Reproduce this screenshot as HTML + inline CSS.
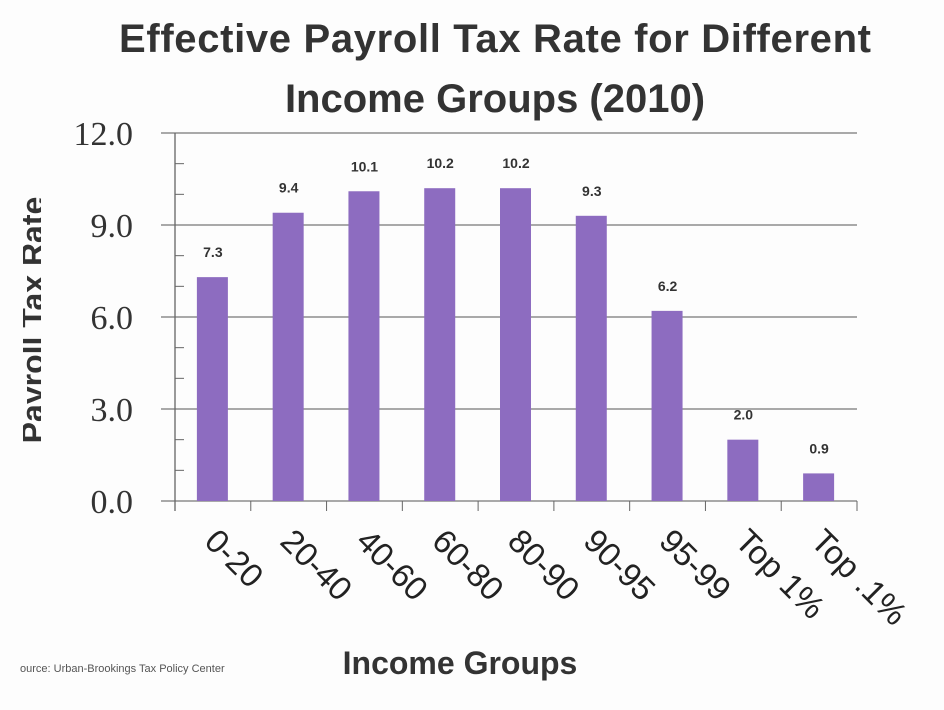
<!DOCTYPE html>
<html><head><meta charset="utf-8"><style>
body{margin:0;background:#fff;}
svg{display:block;font-family:"Liberation Sans","DejaVu Sans",sans-serif;}
</style></head><body>
<svg id="c" width="944" height="710" viewBox="0 0 944 710">
<rect width="944" height="710" fill="#fdfdfd"/>
<text x="495" y="52" font-size="40" font-weight="bold" fill="#333" text-anchor="middle" textLength="752">Effective Payroll Tax Rate for Different</text>
<text x="495" y="112" font-size="40" font-weight="bold" fill="#333" text-anchor="middle">Income Groups (2010)</text>
<text transform="translate(44,320) rotate(-90)" font-size="32" font-weight="bold" fill="#333" text-anchor="middle">Payroll Tax Rate</text>
<rect x="0" y="150" width="23" height="330" fill="#fdfdfd"/>
<rect x="41" y="150" width="20" height="330" fill="#fdfdfd"/>
<g id="grid"></g><g id="bars"></g><g id="labels"></g>
<text x="460" y="674" font-size="32" font-weight="bold" fill="#333" text-anchor="middle">Income Groups</text>
<text x="20" y="672" font-size="11" fill="#555">ource: Urban-Brookings Tax Policy Center</text>
</svg>
<script>
const categories=["0-20","20-40","40-60","60-80","80-90","90-95","95-99","Top 1%","Top .1%"];
const values=[7.3,9.4,10.1,10.2,10.2,9.3,6.2,2.0,0.9];
const valueLabels=["7.3","9.4","10.1","10.2","10.2","9.3","6.2","2.0","0.9"];
const yTicks=[0,3,6,9,12];
const yTickLabels=["0.0","3.0","6.0","9.0","12.0"];
const NS="http://www.w3.org/2000/svg";
const x0=175,x1=857,yb=501,yt=133,ymax=12;
const bw=(x1-x0)/categories.length;
const y=v=>yb-(v/ymax)*(yb-yt);
const xc=i=>x0+bw*(i+0.5);
function mk(t,a,p){const e=document.createElementNS(NS,t);for(const k in a)e.setAttribute(k,a[k]);p.appendChild(e);return e;}
const g=document.getElementById('grid'),b=document.getElementById('bars'),l=document.getElementById('labels');
yTicks.forEach((v,i)=>{
 const ln=mk('line',{x1:161,x2:x1,y1:y(v),y2:y(v),stroke:'#777','stroke-width':1.3},g);
 
 
 const t=mk('text',{x:133,y:y(v)+12,'font-size':34,fill:'#333','text-anchor':'end','font-family':'Liberation Serif, serif'},g);
 t.textContent=yTickLabels[i];
 
 
});
for(let v=1;v<ymax;v++){if(v%3)mk('line',{x1:x0,x2:x0+9,y1:y(v),y2:y(v),stroke:'#666','stroke-width':1},g);}
mk('line',{x1:x0,x2:x0,y1:yt,y2:yb+10,stroke:'#666','stroke-width':1.3},g);
for(let i=0;i<=categories.length;i++)mk('line',{x1:x0+bw*i,x2:x0+bw*i,y1:yb,y2:yb+10,stroke:'#666','stroke-width':1},g);
categories.forEach((c,i)=>{
 const r=mk('rect',{x:xc(i)-16,y:y(values[i]),width:31,height:yb-y(values[i]),fill:'#8d6cc0'},b);
 
 
 const vt=mk('text',{x:xc(i),y:y(values[i])-20,'font-size':14,'font-weight':'bold',fill:'#333','text-anchor':'middle'},l);
 vt.textContent=valueLabels[i];
 
 
 const ct=mk('text',{transform:`translate(${xc(i)-10},${yb+42}) rotate(45)`,'font-size':33,fill:'#222'},l);
 ct.textContent=c;
 
 
});
</script>
</body></html>
